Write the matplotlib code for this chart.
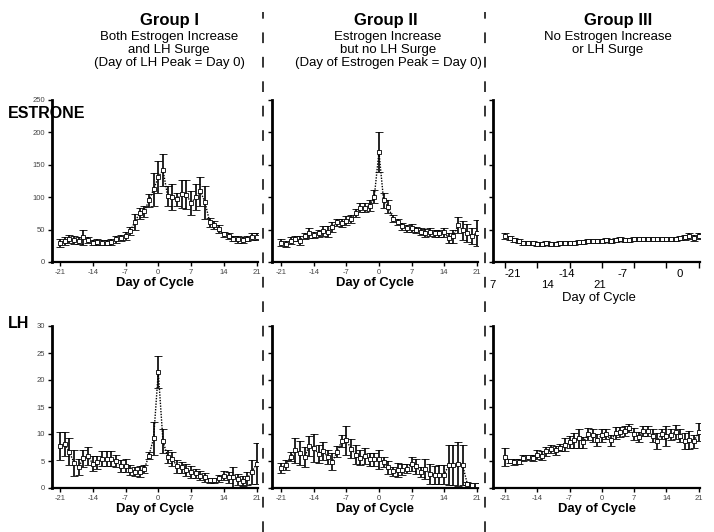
import numpy as np
import matplotlib
matplotlib.use("Agg")
import matplotlib.pyplot as plt

plt.rcParams['font.family'] = ['Liberation Sans', 'DejaVu Sans']

# Tage des Zyklus
days = list(range(-21, 22))

# Gruppe I
estrone_g1 = [29, 33, 35, 34, 33, 38, 34, 30, 31, 30, 30, 31, 35, 37, 40, 48, 62, 75, 78, 95,
              112, 131, 142, 102, 100, 97, 105, 104, 91, 100, 109, 92, 61, 57, 51, 43, 40, 36,
              35, 34, 36, 39, 39]
estrone_g1_err = [6, 6, 6, 6, 5, 12, 5, 4, 4, 4, 4, 4, 5, 5, 6, 6, 12, 8, 8, 10,
                  25, 25, 25, 15, 20, 10, 22, 22, 18, 20, 22, 25, 7, 6, 6, 4, 5, 4,
                  5, 5, 4, 5, 5]
lh_g1 = [7.8, 8.2, 6.7, 4.7, 3.9, 5.5, 5.9, 4.5, 4.8, 5.4, 5.4, 5.4, 5.0, 4.0, 4.1, 3.4, 3.0, 3.0,
         3.5, 6.0, 9.2, 21.5, 8.7, 5.8, 5.4, 4.0, 3.8, 3.4, 2.9, 2.7, 2.3, 2.0, 1.4, 1.4, 1.8,
         2.3, 2.0, 2.0, 1.6, 1.3, 1.8, 3.0, 4.5]
lh_g1_err = [2.6, 2.2, 2.5, 2.4, 1.5, 1.6, 1.7, 1.4, 1.2, 1.4, 1.4, 1.4, 1.2, 1.1, 1.2, 0.9, 0.8, 1.0,
             0.7, 0.6, 3.0, 3.0, 2.3, 1.2, 1.3, 1.2, 1.1, 1.1, 1.1, 0.9, 0.8, 0.8, 0.5, 0.5, 0.6,
             0.9, 1.0, 1.8, 1.0, 0.9, 1.2, 2.2, 3.8]

# Gruppe II
estrone_g2 = [30, 28, 33, 36, 33, 40, 45, 42, 44, 48, 47, 54, 61, 60, 64, 66, 76, 84, 84, 87,
              101, 170, 95, 85, 67, 62, 55, 52, 52, 49, 47, 45, 46, 44, 44, 46, 37, 40, 57,
              49, 45, 40, 45]
estrone_g2_err = [5, 5, 5, 4, 7, 5, 8, 5, 5, 8, 8, 8, 6, 6, 7, 6, 6, 7, 7, 9,
                  10, 31, 11, 10, 5, 5, 5, 5, 6, 5, 5, 6, 6, 6, 6, 7, 8, 10, 13,
                  15, 14, 12, 20]
lh_g2 = [3.7, 4.3, 5.8, 7.0, 6.5, 5.7, 7.8, 7.4, 6.3, 6.9, 5.7, 4.9, 6.7, 8.7, 8.8, 7.3, 6.2,
         5.6, 6.0, 5.3, 5.3, 5.3, 4.8, 3.8, 3.1, 3.3, 3.4, 3.6, 4.5, 4.0, 2.9, 3.5, 2.6, 2.4,
         2.5, 2.5, 4.2, 4.2, 4.5, 4.2, 0.8, 0.6, 0.6]
lh_g2_err = [0.9, 0.9, 0.8, 2.3, 2.2, 1.9, 1.8, 2.6, 1.6, 1.7, 1.3, 1.5, 1.0, 1.1, 2.6, 1.8, 1.7,
             1.4, 1.5, 1.2, 1.2, 1.7, 0.9, 1.2, 0.8, 1.3, 1.0, 0.9, 1.3, 1.4, 0.9, 1.8, 1.8, 1.7,
             1.7, 1.7, 3.7, 3.7, 4.1, 3.7, 0.3, 0.3, 0.3]

# Gruppe III
estrone_g3 = [40, 37, 34, 32, 30, 29, 29, 28, 28, 29, 28, 28, 29, 30, 30, 30, 31, 31, 32, 33,
              32, 33, 34, 33, 34, 35, 34, 34, 35, 36, 35, 36, 35, 35, 36, 35, 35, 36, 37,
              38, 40, 37, 40]
estrone_g3_err = [4, 3, 3, 3, 3, 3, 3, 3, 3, 3, 3, 3, 3, 3, 3, 3, 3, 3, 3, 3,
                  3, 3, 3, 3, 3, 3, 3, 3, 3, 3, 3, 3, 3, 3, 3, 3, 3, 3, 3,
                  4, 4, 4, 4]
lh_g3 = [5.8, 5.0, 4.8, 4.9, 5.6, 5.7, 5.6, 6.2, 6.0, 6.8, 7.2, 7.0, 7.5, 8.0, 8.5, 8.8, 9.2,
         8.5, 10.0, 9.8, 8.9, 9.8, 10.0, 8.8, 10.2, 10.4, 10.6, 11.1, 10.0, 9.4, 10.6, 10.6,
         9.7, 8.7, 10.0, 9.6, 9.9, 10.4, 9.7, 8.7, 8.9, 8.7, 10.4]
lh_g3_err = [1.7, 0.4, 0.5, 0.5, 0.6, 0.5, 0.6, 0.9, 0.8, 0.8, 0.8, 0.8, 0.7, 1.2, 1.1, 1.3, 1.7,
             1.0, 1.1, 1.2, 1.1, 1.2, 0.9, 1.1, 1.1, 0.9, 0.9, 0.8, 1.1, 0.9, 0.9, 0.9,
             1.2, 1.4, 0.9, 1.8, 1.0, 1.3, 1.2, 1.5, 1.7, 1.2, 1.7]

group_titles = ["Group I", "Group II", "Group III"]
group_subtitles = ["Both Estrogen Increase\nand LH Surge\n(Day of LH Peak = Day 0)",
                   "Estrogen Increase\nbut no LH Surge\n(Day of Estrogen Peak = Day 0)",
                   "No Estrogen Increase\nor LH Surge"]
xticks = [-21, -14, -7, 0, 7, 14, 21]

W, H = 714, 532
fig = plt.figure(figsize=(W / 100, H / 100), dpi=100)


def px_axes(left, right, top, bottom):
    return fig.add_axes([left / W, 1 - bottom / H, (right - left) / W, (bottom - top) / H])


def style(ax, ymax, ystep, show_ylabels, xlim):
    ax.set_xlim(*xlim)
    ax.set_ylim(0, ymax)
    for s in ["top", "right"]:
        ax.spines[s].set_visible(False)
    ax.spines["left"].set_linewidth(2.0)
    ax.spines["bottom"].set_linewidth(1.6)
    ax.set_yticks(np.arange(0, ymax + 1, ystep))
    ax.set_xticks(xticks)
    ax.set_xticklabels([str(t) for t in xticks])
    ax.tick_params(axis="both", direction="out", length=3, width=1, labelsize=5.5,
                   labelcolor="#444444", pad=2)
    if not show_ylabels:
        ax.set_yticklabels([])


def draw(ax, mean, err):
    ax.plot(days, mean, linestyle=(0, (1, 1)), color="black", lw=1.0, zorder=2)
    ax.errorbar(days, mean, yerr=err, fmt="s", ms=2.3, mfc="white", mec="black", mew=0.6,
                ecolor="black", elinewidth=1.2, capsize=2.8, capthick=1.2, zorder=3)


# Achsen-Positionen in Pixeln
cols = [(52, 258, (-22.7, 21.3)), (272, 478, (-23.0, 21.3)), (493, 700, (-23.6, 21.3))]
rows_est = (100, 262)
rows_lh = (326, 488)

est_data = [(estrone_g1, estrone_g1_err), (estrone_g2, estrone_g2_err), (estrone_g3, estrone_g3_err)]
lh_data = [(lh_g1, lh_g1_err), (lh_g2, lh_g2_err), (lh_g3, lh_g3_err)]

for i, (l, r, xl) in enumerate(cols):
    ax = px_axes(l, r, *rows_est)
    draw(ax, *est_data[i])
    style(ax, 250, 50, i == 0, xl)
    if i < 2:
        ax.set_xlabel("Day of Cycle", fontsize=9.4, fontweight="bold", labelpad=1)
    else:
        # Gruppe III: verrutschte Beschriftung wie im Original
        ax.set_xticklabels([])
        ax.tick_params(axis="x", length=4)
        lab1 = [("-21", 513), ("-14", 567), ("-7", 623), ("0", 680)]
        lab2 = [("7", 493), ("14", 547), ("21", 600)]
        for txt, px in lab1:
            fig.text(px / W, 1 - 274 / H, txt, ha="center", va="center", fontsize=8.2)
        for txt, px in lab2:
            fig.text(px / W, 1 - 285 / H, txt, ha="center", va="center", fontsize=8.2)
        fig.text(599 / W, 1 - 298 / H, "Day of Cycle", ha="center", va="center", fontsize=9.4)

    ax2 = px_axes(l, r, *rows_lh)
    draw(ax2, *lh_data[i])
    style(ax2, 30, 5, i == 0, xl)
    ax2.set_xlabel("Day of Cycle", fontsize=9.4, fontweight="bold", labelpad=1)

# Titel
title_x = [169, 386, 618]
sub_x = [169, 388, 608]
for i in range(3):
    fig.text(title_x[i] / W, 1 - 20 / H, group_titles[i], ha="center", va="center",
             fontsize=12, fontweight="bold")
    fig.text(sub_x[i] / W, 1 - 31 / H, group_subtitles[i], ha="center", va="top",
             fontsize=9.5, linespacing=1.12)

fig.text(8 / W, 1 - 113 / H, "ESTRONE", ha="left", va="center", fontsize=11.5, fontweight="bold")
fig.text(8 / W, 1 - 323 / H, "LH", ha="left", va="center", fontsize=11.5, fontweight="bold")

# gestrichelte Trennlinien
for xp in [263, 485]:
    fig.add_artist(plt.Line2D([xp / W, xp / W], [0, 1 - 12 / H], color="black", lw=1.1,
                              linestyle=(0, (7, 9))))

fig.savefig("out.png", dpi=100)
